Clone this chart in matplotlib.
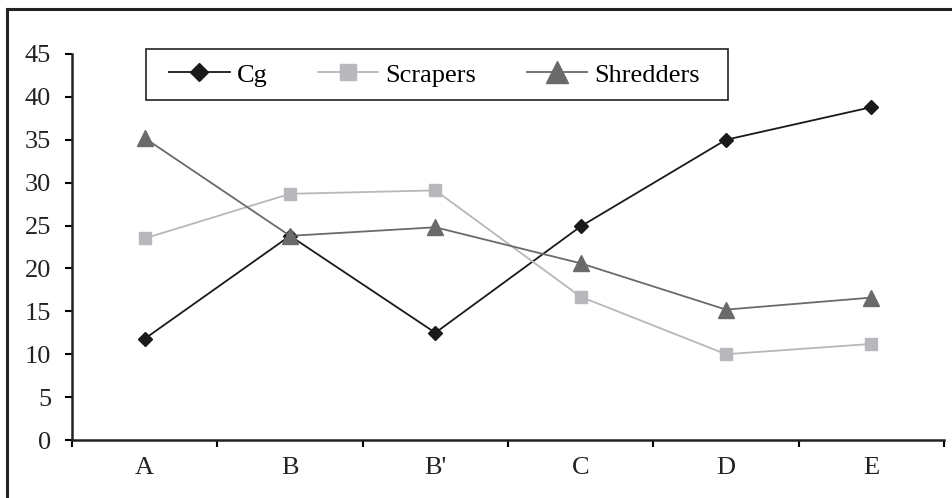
import matplotlib
matplotlib.use("Agg")
import matplotlib.pyplot as plt
from matplotlib.lines import Line2D
from matplotlib.patches import Rectangle

categories = ["A", "B", "B'", "C", "D", "E"]
cg = [11.8, 23.8, 12.5, 24.9, 35.0, 38.8]
scrapers = [23.5, 28.7, 29.1, 16.7, 10.0, 11.2]
shredders = [35.2, 23.8, 24.8, 20.6, 15.2, 16.6]

plt.rcParams['font.family'] = ['Liberation Serif', 'DejaVu Serif']

W, H = 953, 498
fig = plt.figure(figsize=(W / 100, H / 100), dpi=100)
ax = fig.add_axes([72 / W, 1 - 440 / H, (944 - 72) / W, (440 - 54) / H])

x = list(range(len(categories)))
ax.plot(x, cg, color='#1a1a1a', lw=1.3, marker='D', ms=7, label='Cg')
ax.plot(x, scrapers, color='#b8b8bc', lw=1.3, marker='s', ms=9, label='Scrapers')
ax.plot(x, shredders, color='#6a6a6a', lw=1.3, marker='^', ms=12, label='Shredders')

ax.set_xlim(-0.5, len(categories) - 0.5)
ax.set_ylim(0, 45)
ax.set_yticks(range(0, 46, 5))
ax.set_xticks(x)
ax.set_xticklabels(categories)
ax.set_xticks([i - 0.5 for i in range(len(categories) + 1)], minor=True)
ax.tick_params(axis='x', which='major', length=0, pad=12, labelsize=19, labelcolor='#222222')
ax.tick_params(axis='x', which='minor', length=5, width=1.5, direction='out')
ax.tick_params(axis='y', length=5, width=1.5, direction='out', labelsize=19, pad=10,
               labelcolor='#222222')
for s in ['top', 'right']:
    ax.spines[s].set_visible(False)
for s in ['left', 'bottom']:
    ax.spines[s].set_linewidth(1.8)
    ax.spines[s].set_color('#222222')

# legend entries without frame, box drawn separately
leg = ax.legend(ncol=3, loc='center left', bbox_to_anchor=(169 / W, 1 - 75 / H),
                bbox_transform=fig.transFigure, frameon=False, fontsize=19,
                handlelength=2.3, columnspacing=1.9, handletextpad=0.27,
                borderpad=0, borderaxespad=0, markerscale=1.3)
fig.add_artist(Rectangle((146 / W, 1 - 100 / H), (728 - 146) / W, (100 - 49) / H,
                         transform=fig.transFigure, fill=False, edgecolor='#222222', lw=1.2))

# outer frame (only top and left edges visible in the picture)
fig.add_artist(Line2D([7 / W, 7 / W], [0, 1 - 9 / H], transform=fig.transFigure,
                      color='#222222', lw=2.2))
fig.add_artist(Line2D([7 / W, 1], [1 - 9 / H, 1 - 9 / H], transform=fig.transFigure,
                      color='#222222', lw=2.2))

fig.savefig('out.png', dpi=100)
